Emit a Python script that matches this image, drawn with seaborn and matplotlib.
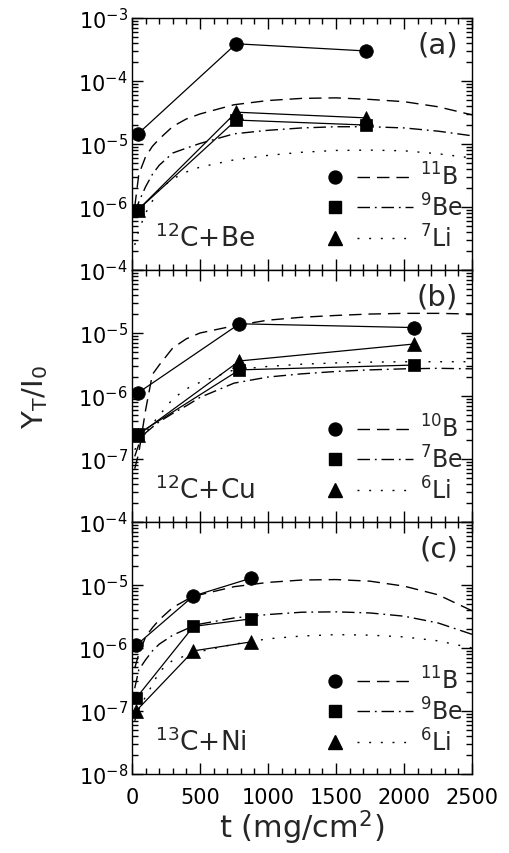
import numpy as np
import matplotlib
matplotlib.use("Agg")
import matplotlib.pyplot as plt
from matplotlib.lines import Line2D
from matplotlib.legend_handler import HandlerTuple
from matplotlib.ticker import LogLocator, MultipleLocator, NullFormatter
import seaborn as sns

# ---- measured yields (symbols joined by solid lines) ----
t_be = [44, 766, 1719]
b11_be = [1.45e-5, 3.9e-4, 3.0e-4]
be9_be = [9.0e-7, 2.4e-5, 2.0e-5]
li7_be = [9.0e-7, 3.2e-5, 2.6e-5]

t_cu = [44, 790, 2076]
b10_cu = [1.12e-6, 1.4e-5, 1.22e-5]
be7_cu = [2.5e-7, 2.6e-6, 3.1e-6]
li6_cu = [2.4e-7, 3.6e-6, 6.7e-6]

t_ni = [30, 452, 874]
b11_ni = [1.1e-6, 6.7e-6, 1.28e-5]
be9_ni = [1.6e-7, 2.2e-6, 2.9e-6]
li6_ni = [1.0e-7, 9.0e-7, 1.25e-6]

# ---- calculated yields (dashed / dash-dot / dotted curves) ----
t_calc = [20, 50, 100, 150, 200, 300, 400, 500, 750, 1000, 1250, 1500, 1750, 2000, 2250, 2500]

calc_b11_be = [1.0e-6, 3.3e-6, 6.3e-6, 9.2e-6, 1.2e-5, 1.9e-5, 2.5e-5, 3.0e-5, 4.2e-5, 4.9e-5,
               5.3e-5, 5.4e-5, 5.1e-5, 4.7e-5, 3.9e-5, 2.9e-5]
calc_be9_be = [8.0e-7, 1.2e-6, 2.1e-6, 3.3e-6, 4.6e-6, 7.2e-6, 8.6e-6, 1.02e-5, 1.45e-5, 1.65e-5,
               1.8e-5, 1.88e-5, 1.88e-5, 1.8e-5, 1.6e-5, 1.35e-5]
calc_li7_be = [2.5e-7, 4.3e-7, 8.0e-7, 1.25e-6, 1.9e-6, 2.8e-6, 3.6e-6, 4.3e-6, 5.6e-6, 6.6e-6,
               7.4e-6, 7.9e-6, 8.0e-6, 7.8e-6, 7.0e-6, 6.0e-6]

calc_b10_cu = [7.0e-8, 1.25e-7, 6.0e-7, 2.2e-6, 3.1e-6, 5.8e-6, 8.1e-6, 1.0e-5, 1.3e-5, 1.6e-5,
               1.78e-5, 1.9e-5, 2.0e-5, 2.05e-5, 2.05e-5, 2.0e-5]
calc_be7_cu = [1.1e-7, 1.7e-7, 2.6e-7, 3.2e-7, 3.9e-7, 5.3e-7, 7.0e-7, 9.5e-7, 1.6e-6, 2.0e-6,
               2.25e-6, 2.45e-6, 2.6e-6, 2.7e-6, 2.75e-6, 2.7e-6]
calc_li6_cu = [1.4e-7, 1.8e-7, 2.6e-7, 3.6e-7, 4.9e-7, 9.0e-7, 1.3e-6, 1.65e-6, 2.6e-6, 2.95e-6,
               3.2e-6, 3.35e-6, 3.45e-6, 3.5e-6, 3.5e-6, 3.5e-6]

calc_b11_ni = [4.8e-7, 8.0e-7, 1.5e-6, 2.1e-6, 2.8e-6, 4.4e-6, 5.8e-6, 7.0e-6, 9.4e-6, 1.1e-5,
               1.2e-5, 1.22e-5, 1.15e-5, 9.6e-6, 7.0e-6, 3.9e-6]
calc_be9_ni = [2.3e-7, 4.5e-7, 6.5e-7, 9.0e-7, 1.15e-6, 1.6e-6, 2.0e-6, 2.4e-6, 3.0e-6, 3.4e-6,
               3.7e-6, 3.75e-6, 3.6e-6, 3.2e-6, 2.5e-6, 1.65e-6]
calc_li6_ni = [7.0e-8, 1.05e-7, 1.7e-7, 2.6e-7, 4.2e-7, 6.4e-7, 7.6e-7, 8.8e-7, 1.15e-6, 1.4e-6,
               1.55e-6, 1.63e-6, 1.6e-6, 1.5e-6, 1.3e-6, 1.0e-6]

# ---- text ----
reactions = ["$^{12}$C+Be", "$^{12}$C+Cu", "$^{13}$C+Ni"]
panel_tags = ["(a)", "(b)", "(c)"]
isotopes_be = ["$^{11}$B", "$^{9}$Be", "$^{7}$Li"]
isotopes_cu = ["$^{10}$B", "$^{7}$Be", "$^{6}$Li"]
isotopes_ni = ["$^{11}$B", "$^{9}$Be", "$^{6}$Li"]
yticks_a = [1e-7, 1e-6, 1e-5, 1e-4, 1e-3]
ylabels_a = ["", "$10^{-6}$", "$10^{-5}$", "$10^{-4}$", "$10^{-3}$"]
yticks_bc = [1e-8, 1e-7, 1e-6, 1e-5, 1e-4]
ylabels_b = ["", "$10^{-7}$", "$10^{-6}$", "$10^{-5}$", "$10^{-4}$"]
ylabels_c = ["$10^{-8}$", "$10^{-7}$", "$10^{-6}$", "$10^{-5}$", "$10^{-4}$"]
xticks = [0, 500, 1000, 1500, 2000, 2500]

sns.set_style("ticks")
plt.rcParams["font.family"] = ["DejaVu Sans"]
plt.rcParams["mathtext.default"] = "regular"
plt.rcParams["lines.scale_dashes"] = False

DASH = (0, (9, 5))
DASHDOT = (0, (9, 3.5, 1.3, 3.5))
DOT = (0, (1.4, 7))
MARKERS = [("o", 9.8), ("s", 8.8), ("^", 10)]
STYLES = [DASH, DASHDOT, DOT]

panels = [
    (t_be, [b11_be, be9_be, li7_be], [calc_b11_be, calc_be9_be, calc_li7_be], isotopes_be,
     yticks_a, ylabels_a),
    (t_cu, [b10_cu, be7_cu, li6_cu], [calc_b10_cu, calc_be7_cu, calc_li6_cu], isotopes_cu,
     yticks_bc, ylabels_b),
    (t_ni, [b11_ni, be9_ni, li6_ni], [calc_b11_ni, calc_be9_ni, calc_li6_ni], isotopes_ni,
     yticks_bc, ylabels_c),
]

fig = plt.figure(figsize=(5.09, 8.54), dpi=100)
left, width, height = 132 / 509, 340 / 509, 252 / 854
bottoms = [0.0925 + 2 * height, 0.0925 + height, 0.0925]

for i, (t, meas, calc, isotopes, yt, yl) in enumerate(panels):
    ax = fig.add_axes([left, bottoms[i], width, height])

    # calculated curves
    for ys, ls in zip(calc, STYLES):
        sns.lineplot(x=t_calc, y=ys, ax=ax, color="k", linewidth=1.0, linestyle=ls)

    # measured points
    for ys, (mk, ms) in zip(meas, MARKERS):
        sns.lineplot(x=t, y=ys, ax=ax, color="k", linewidth=0.9, marker=mk, markersize=ms,
                     markeredgecolor="k", markeredgewidth=0.5)

    ax.set_yscale("log")
    ax.set_ylim(yt[0], yt[-1])
    ax.set_xlim(0, 2500)
    ax.set_yticks(yt)
    ax.set_yticklabels(yl)
    ax.yaxis.set_minor_locator(LogLocator(base=10, subs=np.arange(2, 10), numticks=20))
    ax.yaxis.set_minor_formatter(NullFormatter())
    ax.set_xticks(xticks)
    ax.xaxis.set_minor_locator(MultipleLocator(100))
    if i < 2:
        ax.set_xticklabels([])
    ax.tick_params(which="both", direction="in", top=True, right=True, width=1, colors="k")
    ax.tick_params(which="major", length=8)
    ax.tick_params(which="minor", length=4)
    ax.tick_params(axis="y", labelsize=15, pad=3)
    ax.tick_params(axis="x", labelsize=15, pad=9)
    for sp in ax.spines.values():
        sp.set_linewidth(1.0)
        sp.set_color("k")
    ax.set_xlabel("")
    ax.set_ylabel("")

    ax.text(0.959, 0.84, panel_tags[i], transform=ax.transAxes, ha="right", va="bottom",
            fontsize=21)
    ax.text(0.068, 0.07, reactions[i], transform=ax.transAxes, ha="left", va="bottom",
            fontsize=19)

    handles = []
    for (mk, ms), ls in zip(MARKERS, STYLES):
        m = Line2D([], [], marker=mk, ls="none", color="k", ms=ms * 0.95)
        l = Line2D([], [], color="k", lw=1.0, ls=ls)
        handles.append((m, l))
    ax.legend(handles, isotopes, handler_map={tuple: HandlerTuple(ndivide=2, pad=-0.25)},
              loc="center left", bbox_to_anchor=(0.515, 0.25), frameon=False, fontsize=17,
              handlelength=4.5, handletextpad=0.3, labelspacing=0.15, borderpad=0,
              borderaxespad=0)

    if i == 2:
        ax.set_xlabel("t (mg/cm$^2$)", fontsize=22, labelpad=1)

fig.text(0.068, 0.535, "$Y_T/I_0$", rotation=90, ha="center", va="center", fontsize=21)

fig.savefig("out.png", dpi=100)
